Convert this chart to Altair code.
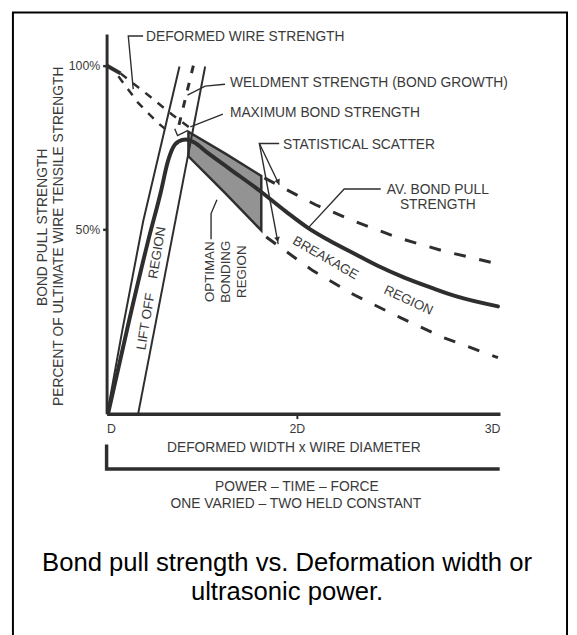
import altair as alt
import pandas as pd

# ---------------- data ----------------
# x : deformed width in multiples of the wire diameter D
# y : bond pull strength, % of ultimate wire tensile strength
x_ticks = [1, 2, 3]
x_tick_labels = ["D", "2D", "3D"]
y_ticks = [50, 100]

# lift-off region boundaries
lift_left_x = [1.005, 1.083, 1.192, 1.383]
lift_left_y = [0.5, 22.7, 52.4, 99.7]
lift_right_x = [1.166, 1.518]
lift_right_y = [0.0, 99.7]

# average bond pull strength curve
avg_x = [1.010, 1.119, 1.218, 1.285, 1.321, 1.347, 1.378, 1.415, 1.461, 1.528,
         1.648, 1.813, 1.943, 2.058, 2.155, 2.286, 2.398, 2.529, 2.660, 2.786, 2.990]
avg_y = [0.5, 25.4, 46.8, 61.4, 70.5, 74.7, 76.8, 77.4, 76.5, 73.5,
         68.4, 61.4, 55.4, 50.3, 47.1, 43.3, 40.1, 36.9, 34.2, 31.8, 29.1]

# statistical scatter bounds
scatter_hi_x = [1.829, 1.907, 2.092, 2.286, 2.505, 2.723, 2.990]
scatter_hi_y = [65.7, 63.3, 57.5, 52.4, 47.6, 44.1, 40.6]
scatter_lo_x = [1.839, 2.078, 2.286, 2.515, 2.723, 2.990]
scatter_lo_y = [47.9, 38.8, 32.1, 25.9, 20.6, 15.2]

# optimum bonding region (hatched)
optimum_x = [1.430, 1.622, 1.813]
optimum_hi = [79.8, 73.2, 66.3]
optimum_lo = [72.3, 61.1, 49.7]

# deformed wire strength
wire_solid_x = [1.0, 1.073]
wire_solid_y = [100.0, 97.6]
wire_hi_x = [1.073, 1.218, 1.347, 1.451]
wire_hi_y = [97.6, 91.0, 84.9, 80.4]
wire_lo_x = [1.062, 1.166, 1.269, 1.332]
wire_lo_y = [96.7, 88.6, 82.5, 79.5]

# weldment strength (bond growth)
weld_x = [1.456, 1.368]
weld_y = [100.0, 78.9]

# leader lines of the annotations
leader_deformed = ([1.192, 1.114, 1.140], [109.0, 109.0, 92.8])
leader_weldment = ([1.622, 1.518, 1.425], [94.3, 93.7, 91.0])
leader_weld_tip = ([1.358, 1.373, 1.425], [80.7, 78.6, 80.1])
leader_maximum = ([1.611, 1.440], [85.2, 81.3])
leader_scatter_a = ([1.907, 1.803, 1.907], [76.2, 76.2, 63.6])
leader_scatter_b = ([1.803, 1.902], [76.2, 46.0])
leader_average = ([2.413, 2.233, 2.058], [62.3, 62.3, 50.6])
leader_optimum = ([1.549, 1.549, 1.580], [47.3, 54.8, 59.0])

# arrow heads at the ends of the scatter leaders
arrow_x = [1.902, 1.898]
arrow_y = [64.4, 47.2]
arrow_angle = [154.5, 169.5]

# second (process) axis
process_axis_x = [1.0, 1.0, 2.99]
process_axis_y = [-8.8, -15.0, -15.0]

# texts: (label, x, y)
txt_deformed = ("DEFORMED WIRE STRENGTH", 1.207, 108.7)
txt_weldment = ("WELDMENT STRENGTH (BOND GROWTH)", 1.648, 94.6)
txt_maximum = ("MAXIMUM BOND STRENGTH", 1.648, 85.5)
txt_scatter = ("STATISTICAL SCATTER", 1.927, 75.6)
txt_average = (["AV. BOND PULL", "STRENGTH"], 2.694, 62.0)
txt_breakage = ("BREAKAGE", 2.141, 42.2)
txt_region = ("REGION", 2.549, 30.7)
txt_liftoff = ("LIFT OFF\u00a0\u00a0\u00a0\u00a0REGION", 1.236, 34.0)
txt_optimum = (["OPTIMAN", "BONDING", "REGION"], 1.546, 38.5)
txt_ytitle1 = ("BOND PULL STRENGTH", 0.668, 50.6)
txt_ytitle2 = ("PERCENT OF ULTIMATE WIRE TENSILE STRENGTH", 0.751, 48.1)
txt_xtitle = ("DEFORMED WIDTH x WIRE DIAMETER", 1.984, -9.4)
txt_process1 = ("POWER \u2013 TIME \u2013 FORCE", 2.0, -19.8)
txt_process2 = ("ONE VARIED \u2013 TWO HELD CONSTANT", 1.995, -24.4)
caption_lines = ["Bond pull strength vs. Deformation width or", "ultrasonic power."]

# ---------------- styling ----------------
FONT = "Liberation Sans"
INK = "#2e2e2e"
TEXT = "#3a3a3a"

xs = alt.Scale(domain=[1, 2, 3], range=[0, 193, 399], nice=False)
ys = alt.Scale(domain=[0, 50, 109.6], range=[385, 198, 0], nice=False)

ax_x = alt.Axis(
    values=x_ticks,
    labelExpr=str(x_tick_labels) + "[datum.value - 1]",
    title=None, grid=False,
    domainColor=INK, domainWidth=3.5,
    tickColor=INK, tickWidth=2, tickSize=5,
    tickOpacity={"condition": {"test": "datum.value == 2", "value": 1}, "value": 0},
    labelFont=FONT, labelFontSize=12.5, labelColor=TEXT, labelPadding=4,
)
ax_y = alt.Axis(
    values=y_ticks,
    labelExpr="datum.value + '%'",
    title=None, grid=False,
    domainColor=INK, domainWidth=3,
    tickColor=INK, tickWidth=2.5, tickSize=4,
    labelFont=FONT, labelFontSize=12.5, labelColor=TEXT, labelPadding=3,
)

X = alt.X("x:Q", scale=xs, axis=ax_x)
Y = alt.Y("y:Q", scale=ys, axis=ax_y)


def frame(series):
    rows = []
    for name, (xv, yv) in series.items():
        for i, (a, b) in enumerate(zip(xv, yv)):
            rows.append({"grp": name, "ord": i, "x": a, "y": b})
    return pd.DataFrame(rows)


def lines(series, **mark):
    return alt.Chart(frame(series)).mark_line(**mark).encode(
        x=X, y=Y, detail="grp:N", order="ord:Q"
    )


def label(t, size=14, angle=0, align="left", color=TEXT, line_height=16):
    text, xv, yv = t
    kw = dict(font=FONT, fontSize=size, color=color, align=align,
              baseline="middle", lineHeight=line_height, text=text)
    if angle:
        kw["angle"] = angle
    return alt.Chart(pd.DataFrame({"x": [xv], "y": [yv]})).mark_text(**kw).encode(x=X, y=Y)


# ---------------- layers ----------------
optimum_df = pd.DataFrame({"x": optimum_x, "y": optimum_hi, "y2": optimum_lo})
optimum = alt.Chart(optimum_df).mark_area(
    fill="#939393", stroke=INK, strokeWidth=2.5, interpolate="linear"
).encode(x=X, y=Y, y2="y2:Q")

thin = lines({"lift_left": (lift_left_x, lift_left_y),
              "lift_right": (lift_right_x, lift_right_y)},
             color=INK, strokeWidth=2)
average = lines({"avg": (avg_x, avg_y)}, color=INK, strokeWidth=4,
                interpolate="monotone", strokeCap="round")
scatter = lines({"hi": (scatter_hi_x, scatter_hi_y), "lo": (scatter_lo_x, scatter_lo_y)},
                color=INK, strokeWidth=3, strokeDash=[12, 14])
wire_solid = lines({"ws": (wire_solid_x, wire_solid_y)}, color=INK, strokeWidth=4)
wire = lines({"wh": (wire_hi_x, wire_hi_y), "wl": (wire_lo_x, wire_lo_y)},
             color=INK, strokeWidth=2.5, strokeDash=[8, 8])
weld = lines({"weld": (weld_x, weld_y)}, color=INK, strokeWidth=3, strokeDash=[8, 10])
leaders = lines({
    "deformed": leader_deformed, "weldment": leader_weldment, "weld_tip": leader_weld_tip,
    "maximum": leader_maximum, "scatter_a": leader_scatter_a, "scatter_b": leader_scatter_b,
    "average": leader_average, "optimum": leader_optimum,
}, color=INK, strokeWidth=1.4)
arrows = alt.Chart(pd.DataFrame({"x": arrow_x, "y": arrow_y, "a": arrow_angle})).mark_point(
    shape="triangle-up", filled=True, color=INK, size=35, opacity=1
).encode(x=X, y=Y, angle=alt.Angle("a:Q", scale=alt.Scale(domain=[0, 360], range=[0, 360])))
process_axis = lines({"proc": (process_axis_x, process_axis_y)}, color=INK,
                     strokeWidth=3.5, strokeCap="square")

texts = [
    label(txt_deformed), label(txt_weldment), label(txt_maximum), label(txt_scatter),
    label(txt_average, align="center", line_height=15),
    label(txt_breakage, angle=30, align="center", size=13.5),
    label(txt_region, angle=25, align="center", size=13.5),
    label(txt_liftoff, angle=279.4, align="center", size=13.5),
    label(txt_optimum, angle=270, align="center", size=13.5),
    label(txt_ytitle1, angle=270, align="center"),
    label(txt_ytitle2, angle=270, align="center"),
    label(txt_xtitle, align="center"),
    label(txt_process1, align="center"),
    label(txt_process2, align="center"),
]

one = alt.Data(values=[{}])
border = alt.Chart(one).mark_rect(
    filled=False, stroke="#000000", strokeWidth=2
).encode(x=alt.value(-95), x2=alt.value(467), y=alt.value(-22), y2=alt.value(700))
caption = [
    alt.Chart(one).mark_text(text=caption_lines[0], font=FONT, fontSize=26, color="#000000",
                             align="center", baseline="alphabetic")
    .encode(x=alt.value(183), y=alt.value(545)),
    alt.Chart(one).mark_text(text=caption_lines[1], font=FONT, fontSize=26, color="#000000",
                             align="center", baseline="alphabetic")
    .encode(x=alt.value(183), y=alt.value(574)),
]

chart = alt.layer(
    optimum, thin, wire_solid, wire, weld, scatter, average, leaders, arrows, process_axis,
    *texts, border, *caption
).properties(
    width=399, height=385,
    autosize=alt.AutoSizeParams(type="none"),
    padding={"left": 100, "top": 22, "right": 70, "bottom": 220},
).configure_view(strokeWidth=0)

chart.save("out.html", embed_options={"renderer": "svg", "actions": False})
